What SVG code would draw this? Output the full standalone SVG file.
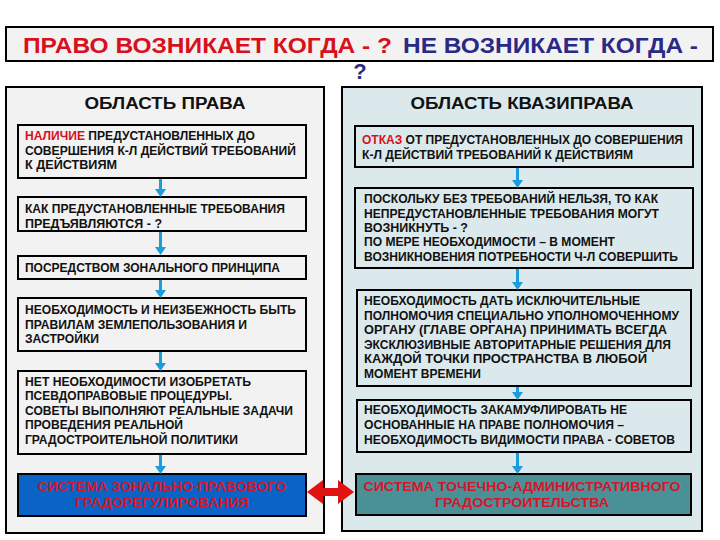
<svg xmlns="http://www.w3.org/2000/svg" width="720" height="540" viewBox="0 0 720 540">
<defs>
<style>
.t{font-family:"Liberation Sans",Arial,sans-serif;font-weight:bold;font-size:12px;fill:#111}
.hd{font-family:"Liberation Sans",Arial,sans-serif;font-weight:bold;font-size:16px;fill:#111}
.tt{font-family:"Liberation Sans",Arial,sans-serif;font-weight:bold;font-size:22px}
.red{fill:#d8101c}
.navy{fill:#2a2a86}
.bx{stroke:#000;stroke-width:2}
.lp{fill:#f2f2f2}
.rp{fill:#dce9ec}
.sys{font-family:"Liberation Sans",Arial,sans-serif;font-weight:bold;font-size:13px;fill:#d81428}
.ba{fill:#1b9cdc}
</style>
</defs>
<rect width="720" height="540" fill="#fff"/>
<g id="title">
<rect class="bx" x="6" y="27" width="707" height="34" fill="#f2f2f2"/>
<text class="tt red" x="23" y="53" textLength="369" lengthAdjust="spacingAndGlyphs">ПРАВО  ВОЗНИКАЕТ КОГДА - ?</text>
<text class="tt navy" x="403" y="53" textLength="295" lengthAdjust="spacingAndGlyphs">НЕ  ВОЗНИКАЕТ КОГДА -</text>
<text class="tt navy" x="360" y="79" text-anchor="middle">?</text>
</g>
<g id="panel-left">
<rect class="bx lp" x="6" y="87" width="318" height="446"/>
<text class="hd" x="165" y="109" text-anchor="middle" textLength="161" lengthAdjust="spacingAndGlyphs">ОБЛАСТЬ  ПРАВА</text>
</g>
<g id="panel-right">
<rect class="bx rp" x="342" y="87" width="360" height="444"/>
<text class="hd" x="522" y="109" text-anchor="middle" textLength="223" lengthAdjust="spacingAndGlyphs">ОБЛАСТЬ  КВАЗИПРАВА</text>
</g>
<g id="l1">
<rect class="bx lp" x="18" y="125" width="288" height="53"/>
<text class="t" x="25" y="140" textLength="230" lengthAdjust="spacingAndGlyphs"><tspan class="red">НАЛИЧИЕ</tspan> ПРЕДУСТАНОВЛЕННЫХ ДО</text>
<text class="t" x="25" y="155" textLength="271" lengthAdjust="spacingAndGlyphs">СОВЕРШЕНИЯ К-Л ДЕЙСТВИЙ ТРЕБОВАНИЙ</text>
<text class="t" x="25" y="169" textLength="92" lengthAdjust="spacingAndGlyphs">К  ДЕЙСТВИЯМ</text>
</g>
<g id="l2">
<rect class="bx lp" x="18" y="197" width="288" height="34"/>
<text class="t" x="25" y="213" textLength="260" lengthAdjust="spacingAndGlyphs">КАК ПРЕДУСТАНОВЛЕННЫЕ ТРЕБОВАНИЯ</text>
<text class="t" x="25" y="228" textLength="137" lengthAdjust="spacingAndGlyphs">ПРЕДЪЯВЛЯЮТСЯ -  ?</text>
</g>
<g id="l3">
<rect class="bx lp" x="18" y="256" width="288" height="23"/>
<text class="t" x="25" y="272" textLength="255" lengthAdjust="spacingAndGlyphs">ПОСРЕДСТВОМ ЗОНАЛЬНОГО ПРИНЦИПА</text>
</g>
<g id="l4">
<rect class="bx lp" x="18" y="298" width="288" height="53"/>
<text class="t" x="25" y="314" textLength="271" lengthAdjust="spacingAndGlyphs">НЕОБХОДИМОСТЬ И НЕИЗБЕЖНОСТЬ БЫТЬ</text>
<text class="t" x="25" y="329" textLength="222" lengthAdjust="spacingAndGlyphs">ПРАВИЛАМ ЗЕМЛЕПОЛЬЗОВАНИЯ И</text>
<text class="t" x="25" y="343" textLength="74" lengthAdjust="spacingAndGlyphs">ЗАСТРОЙКИ</text>
</g>
<g id="l5">
<rect class="bx lp" x="18" y="371" width="288" height="83"/>
<text class="t" x="25" y="386" textLength="226" lengthAdjust="spacingAndGlyphs">НЕТ НЕОБХОДИМОСТИ ИЗОБРЕТАТЬ</text>
<text class="t" x="25" y="400" textLength="207" lengthAdjust="spacingAndGlyphs">ПСЕВДОПРАВОВЫЕ ПРОЦЕДУРЫ.</text>
<text class="t" x="25" y="415" textLength="268" lengthAdjust="spacingAndGlyphs">СОВЕТЫ ВЫПОЛНЯЮТ РЕАЛЬНЫЕ ЗАДАЧИ</text>
<text class="t" x="25" y="429" textLength="158" lengthAdjust="spacingAndGlyphs">ПРОВЕДЕНИЯ РЕАЛЬНОЙ</text>
<text class="t" x="25" y="444" textLength="213" lengthAdjust="spacingAndGlyphs">ГРАДОСТРОИТЕЛЬНОЙ ПОЛИТИКИ</text>
</g>
<g id="l6">
<rect class="bx" x="18" y="474" width="288" height="42" fill="#0a64c6"/>
<text class="sys" x="162" y="491" text-anchor="middle" textLength="249" lengthAdjust="spacingAndGlyphs">СИСТЕМА ЗОНАЛЬНО-ПРАВОВОГО</text>
<text class="sys" x="162" y="507" text-anchor="middle" textLength="174" lengthAdjust="spacingAndGlyphs">ГРАДОРЕГУЛИРОВАНИЯ</text>
</g>
<g id="r1">
<rect class="bx rp" x="355" y="126" width="338" height="41"/>
<text class="t" x="362" y="144" textLength="321" lengthAdjust="spacingAndGlyphs"><tspan class="red">ОТКАЗ</tspan> ОТ ПРЕДУСТАНОВЛЕННЫХ ДО СОВЕРШЕНИЯ</text>
<text class="t" x="362" y="159" textLength="271" lengthAdjust="spacingAndGlyphs">К-Л ДЕЙСТВИЙ ТРЕБОВАНИЙ К  ДЕЙСТВИЯМ</text>
</g>
<g id="r2">
<rect class="bx rp" x="355" y="188" width="338" height="80"/>
<text class="t" x="364" y="203" textLength="294" lengthAdjust="spacingAndGlyphs">ПОСКОЛЬКУ БЕЗ ТРЕБОВАНИЙ НЕЛЬЗЯ, ТО КАК</text>
<text class="t" x="364" y="218" textLength="295" lengthAdjust="spacingAndGlyphs">НЕПРЕДУСТАНОВЛЕННЫЕ ТРЕБОВАНИЯ МОГУТ</text>
<text class="t" x="364" y="232" textLength="104" lengthAdjust="spacingAndGlyphs">ВОЗНИКНУТЬ -  ?</text>
<text class="t" x="364" y="246" textLength="251" lengthAdjust="spacingAndGlyphs">ПО МЕРЕ НЕОБХОДИМОСТИ – В МОМЕНТ</text>
<text class="t" x="364" y="261" textLength="314" lengthAdjust="spacingAndGlyphs">ВОЗНИКНОВЕНИЯ ПОТРЕБНОСТИ Ч-Л СОВЕРШИТЬ</text>
</g>
<g id="r3">
<rect class="bx rp" x="357" y="290" width="334" height="96"/>
<text class="t" x="364" y="305" textLength="276" lengthAdjust="spacingAndGlyphs">НЕОБХОДИМОСТЬ ДАТЬ ИСКЛЮЧИТЕЛЬНЫЕ</text>
<text class="t" x="364" y="320" textLength="315" lengthAdjust="spacingAndGlyphs">ПОЛНОМОЧИЯ СПЕЦИАЛЬНО УПОЛНОМОЧЕННОМУ</text>
<text class="t" x="364" y="334" textLength="303" lengthAdjust="spacingAndGlyphs">ОРГАНУ (ГЛАВЕ ОРГАНА) ПРИНИМАТЬ ВСЕГДА</text>
<text class="t" x="364" y="349" textLength="307" lengthAdjust="spacingAndGlyphs">ЭКСКЛЮЗИВНЫЕ АВТОРИТАРНЫЕ РЕШЕНИЯ ДЛЯ</text>
<text class="t" x="364" y="363" textLength="283" lengthAdjust="spacingAndGlyphs">КАЖДОЙ ТОЧКИ ПРОСТРАНСТВА В ЛЮБОЙ</text>
<text class="t" x="364" y="378" textLength="117" lengthAdjust="spacingAndGlyphs">МОМЕНТ ВРЕМЕНИ</text>
</g>
<g id="r4">
<rect class="bx rp" x="357" y="400" width="334" height="52"/>
<text class="t" x="364" y="414" textLength="263" lengthAdjust="spacingAndGlyphs">НЕОБХОДИМОСТЬ ЗАКАМУФЛИРОВАТЬ НЕ</text>
<text class="t" x="364" y="429" textLength="260" lengthAdjust="spacingAndGlyphs">ОСНОВАННЫЕ НА ПРАВЕ ПОЛНОМОЧИЯ –</text>
<text class="t" x="364" y="444" textLength="311" lengthAdjust="spacingAndGlyphs">НЕОБХОДИМОСТЬ ВИДИМОСТИ ПРАВА - СОВЕТОВ</text>
</g>
<g id="r5">
<rect class="bx" x="356" y="474" width="335" height="41" fill="#4a9197"/>
<text class="sys" x="522" y="491" text-anchor="middle" textLength="317" lengthAdjust="spacingAndGlyphs">СИСТЕМА ТОЧЕЧНО-АДМИНИСТРАТИВНОГО</text>
<text class="sys" x="522" y="507" text-anchor="middle" textLength="174" lengthAdjust="spacingAndGlyphs">ГРАДОСТРОИТЕЛЬСТВА</text>
</g>
<g id="connectors">
<path class="ba" d="M159 179h3v10h4l-5.5 8l-5.5-8h4z"/>
<path class="ba" d="M159 232h3v15h4l-5.5 8l-5.5-8h4z"/>
<path class="ba" d="M159 280h3v10h4l-5.5 8l-5.5-8h4z"/>
<path class="ba" d="M159 352h3v11h4l-5.5 8l-5.5-8h4z"/>
<path class="ba" d="M159 455h3v11h4l-5.5 8l-5.5-8h4z"/>
<path class="ba" d="M516 168h3v12h4l-5.5 8l-5.5-8h4z"/>
<path class="ba" d="M516 269h3v13h4l-5.5 8l-5.5-8h4z"/>
<path class="ba" d="M516 387h3v5h4l-5.5 8l-5.5-8h4z"/>
<path class="ba" d="M516 453h3v13h4l-5.5 8l-5.5-8h4z"/>
<path fill="#e01212" d="M307 492l16-12v8h15v-8l16 12l-16 12v-8h-15v8z"/>
</g>
</svg>
